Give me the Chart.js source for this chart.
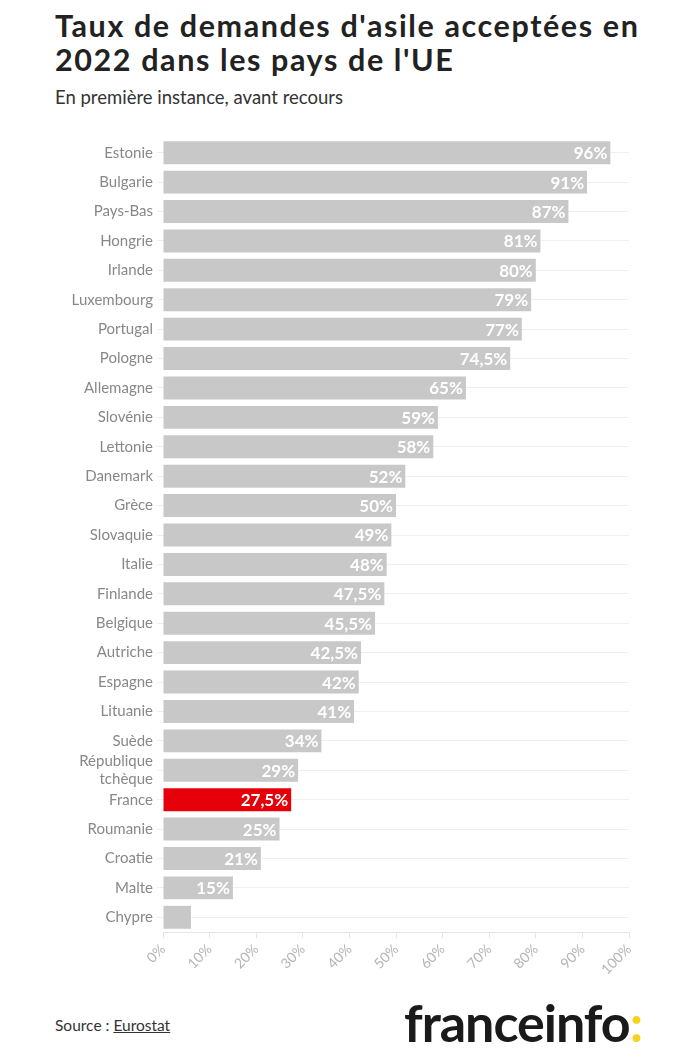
<!DOCTYPE html>
<html lang="fr">
<head>
<meta charset="utf-8">
<script src="https://cdn.jsdelivr.net/npm/chart.js@4"></script>
<style>
  html, body { margin: 0; padding: 0; background: #fff; }
  body { width: 696px; height: 1058px; position: relative; overflow: hidden; font-family: Lato, "Open Sans", sans-serif; }
  h1 { position: absolute; left: 55px; top: 8px; margin: 0; width: 600px; font-size: 30.5px; line-height: 34px; font-weight: 700; color: #222; letter-spacing: 1.6px; }
  .sub { position: absolute; left: 55px; top: 86px; font-size: 18.5px; color: #333; }
  .chart-box { position: absolute; left: 0; top: 125px; width: 696px; height: 875px; }
  .source { position: absolute; left: 55px; top: 1016px; font-size: 15.5px; color: #333; }
  .source u { text-decoration-thickness: 1px; }
  .logo { position: absolute; left: 404px; top: 992px; font-size: 52px; line-height: 60px; font-weight: 700; color: #1a1a1a; letter-spacing: -1px; }
  .logo span { color: #f4d41c; }
</style>
</head>
<body>
<h1>Taux de demandes d'asile acceptées en 2022 dans les pays de l'UE</h1>
<div class="sub">En première instance, avant recours</div>
<div class="chart-box"><canvas id="asileChart"></canvas></div>
<div class="source">Source : <u>Eurostat</u></div>
<div class="logo">franceinfo<span>:</span></div>

<script>
// pays (ordre du graphique)
const countries = [
  'Estonie', 'Bulgarie', 'Pays-Bas', 'Hongrie', 'Irlande', 'Luxembourg', 'Portugal',
  'Pologne', 'Allemagne', 'Slovénie', 'Lettonie', 'Danemark', 'Grèce', 'Slovaquie',
  'Italie', 'Finlande', 'Belgique', 'Autriche', 'Espagne', 'Lituanie', 'Suède',
  ['République', 'tchèque'], 'France', 'Roumanie', 'Croatie', 'Malte', 'Chypre'
];

// taux d'acceptation en %
const rates = [
  96, 91, 87, 81, 80, 79, 77,
  74.5, 65, 59, 58, 52, 50, 49,
  48, 47.5, 45.5, 42.5, 42, 41, 34,
  29, 27.5, 25, 21, 15, 6
];

const xTicks = [0, 10, 20, 30, 40, 50, 60, 70, 80, 90, 100];
const highlight = 'France';

const barColors = countries.map(c => c === highlight ? '#e5000a' : '#c8c8c8');

function formatPct(v) {
    return String(v).replace('.', ',') + '%';
}

// étiquettes blanches à l'intérieur des barres
const valueLabels = {
    id: 'valueLabels',
    afterDatasetsDraw(chart) {
        const ctx = chart.ctx;
        const meta = chart.getDatasetMeta(0);
        ctx.save();
        ctx.font = 'bold 17px Lato, "Open Sans", sans-serif';
        ctx.fillStyle = '#fff';
        ctx.textAlign = 'right';
        ctx.textBaseline = 'middle';
        meta.data.forEach((bar, i) => {
            const v = rates[i];
            if (v < 10) return;
            ctx.fillText(formatPct(v), bar.x - 3, bar.y + 1);
        });
        ctx.restore();
    }
};

const ctx = document.getElementById('asileChart').getContext('2d');
new Chart(ctx, {
    type: 'bar',
    data: {
        labels: countries,
        datasets: [{
            data: rates,
            backgroundColor: barColors,
            barPercentage: 0.78,
            categoryPercentage: 1
        }]
    },
    options: {
        indexAxis: 'y',
        responsive: true,
        maintainAspectRatio: false,
        animation: false,
        layout: { padding: { top: 2, right: 67, bottom: 0, left: 0 } },
        plugins: {
            legend: { display: false },
            tooltip: { enabled: false }
        },
        scales: {
            x: {
                min: 0,
                max: 100,
                afterBuildTicks: (scale) => {
                    scale.ticks = xTicks.map(v => ({ value: v }));
                },
                afterFit: (scale) => { scale.height = 68; },
                ticks: {
                    minRotation: 45,
                    maxRotation: 45,
                    color: '#b5b5b5',
                    font: { size: 14, family: 'Lato, "Open Sans", sans-serif' },
                    callback: (v) => v + '%'
                },
                grid: { drawOnChartArea: false, tickLength: 6, color: '#e6e6e6' },
                border: { color: '#e6e6e6' }
            },
            y: {
                afterFit: (scale) => { scale.width = 163; },
                ticks: {
                    autoSkip: false,
                    color: '#888',
                    font: { size: 15, family: 'Lato, "Open Sans", sans-serif' },
                    padding: 4
                },
                grid: { color: '#efefef', tickLength: 6, offset: false },
                border: { display: false }
            }
        }
    },
    plugins: [valueLabels]
});
</script>
</body>
</html>
